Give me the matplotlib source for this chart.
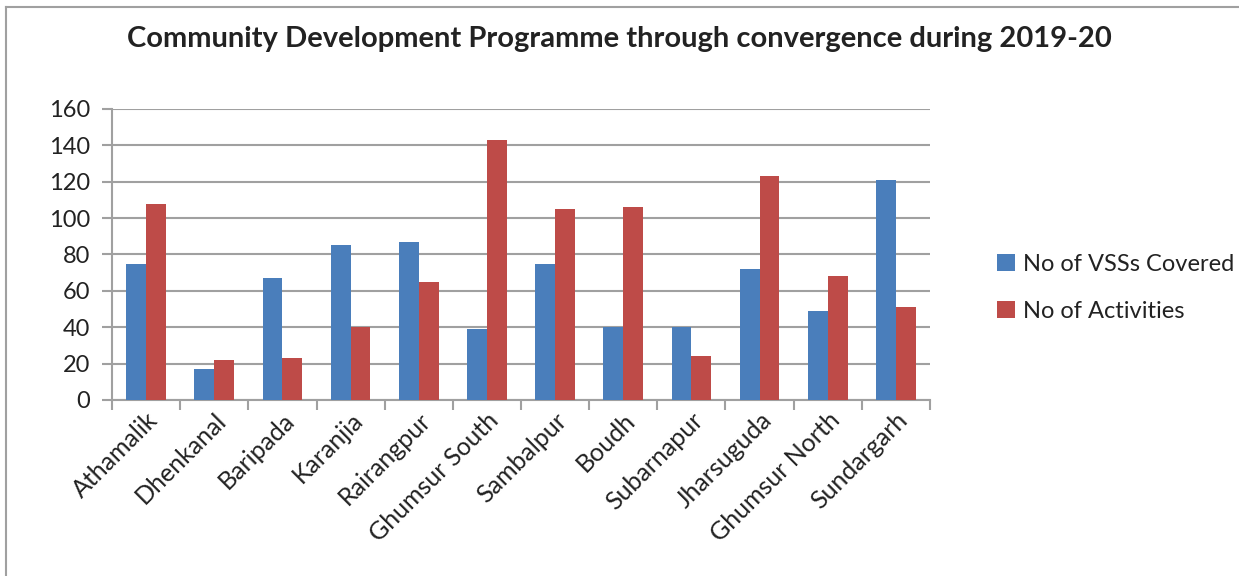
import numpy as np
import matplotlib.pyplot as plt
from matplotlib.lines import Line2D

# Data
divisions = ["Athamalik", "Dhenkanal", "Baripada", "Karanjia", "Rairangpur",
             "Ghumsur South", "Sambalpur", "Boudh", "Subarnapur", "Jharsuguda",
             "Ghumsur North", "Sundargarh"]
vss_covered = [75, 17, 67, 85, 87, 39, 75, 40, 40, 72, 49, 121]
activities = [108, 22, 23, 40, 65, 143, 105, 106, 24, 123, 68, 51]

plt.rcParams['font.family'] = ['Lato', 'DejaVu Sans']

fig = plt.figure(figsize=(12.39, 5.76), dpi=100)
ax = fig.add_axes([0.0904, 0.3056, 0.6602, 0.5052])

x = np.arange(len(divisions))
w = 0.29
ax.bar(x - w / 2, vss_covered, w, color='#4a7ebb', label='No of VSSs Covered', zorder=3)
ax.bar(x + w / 2, activities, w, color='#be4b48', label='No of Activities', zorder=3)

ax.set_xlim(-0.5, len(divisions) - 0.5)
ax.set_ylim(0, 160)
ax.set_yticks(np.arange(0, 161, 20))
ax.yaxis.grid(True, color='#a0a0a0', linewidth=1.5, zorder=0)

# tick marks at category boundaries, labels at centres
ax.set_xticks(np.arange(-0.5, len(divisions)), minor=False)
ax.set_xticklabels([])
ax.set_xticks(x, minor=True)
ax.set_xticklabels(divisions, minor=True, rotation=45, ha='right',
                   rotation_mode='anchor', fontsize=18, color='#222222')
ax.tick_params(axis='x', which='minor', length=0, pad=6)
ax.tick_params(axis='x', which='major', length=7, width=1.5, color='#a0a0a0')
ax.tick_params(axis='y', length=7, width=1.5, color='#a0a0a0', labelsize=17,
               labelcolor='#222222', pad=9)

for side in ['top', 'right']:
    ax.spines[side].set_visible(False)
for side in ['left', 'bottom']:
    ax.spines[side].set_color('#a0a0a0')
    ax.spines[side].set_linewidth(1.5)

fig.text(0.5, 0.932, "Community Development Programme through convergence during 2019-20",
         ha='center', va='center', fontsize=21, fontweight='bold', color='#222222')

fig.legend(loc='center left', bbox_to_anchor=(0.805, 0.5), frameon=False,
           fontsize=17, handlelength=0.75, handleheight=0.75, handletextpad=0.35,
           labelspacing=1.1, labelcolor='#222222', borderaxespad=0, borderpad=0)

# chart frame (left and top edges visible)
fig.add_artist(Line2D([0.005, 0.005], [0, 0.988], transform=fig.transFigure,
                      color='#a0a0a0', linewidth=1.5))
fig.add_artist(Line2D([0.005, 1.0], [0.988, 0.988], transform=fig.transFigure,
                      color='#a0a0a0', linewidth=1.5))

fig.savefig('out.png', dpi=100)
